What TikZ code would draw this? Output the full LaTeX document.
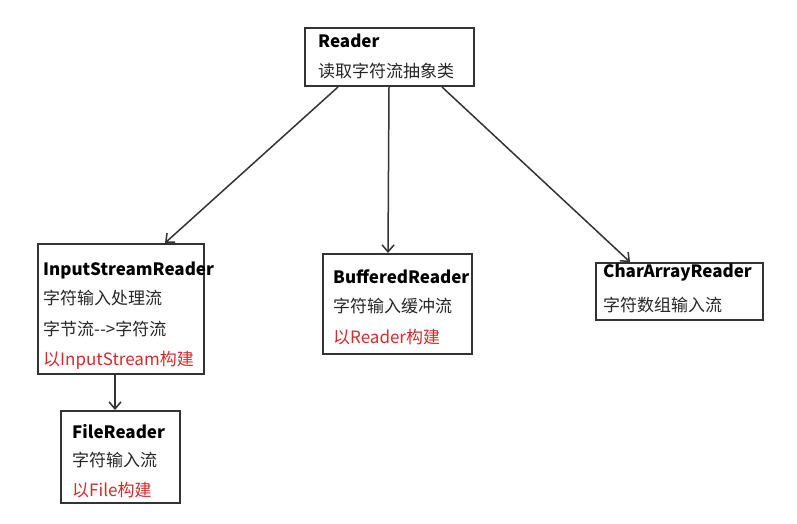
\documentclass[tikz,border=0pt]{standalone}
\usepackage{fontspec}
\setmainfont{Noto Sans CJK SC}
\usepackage{xcolor}
\usetikzlibrary{arrows.meta}

\definecolor{boxline}{HTML}{333333}
\definecolor{hintred}{HTML}{D42B2B}

\tikzset{
  classbox/.style={draw=boxline, line width=2pt, rectangle, inner sep=0pt, anchor=north west},
  title/.style={anchor=west, inner sep=0pt, font=\fontsize{17}{17}\selectfont\bfseries, text=black},
  line/.style={anchor=west, inner sep=0pt, font=\fontsize{17}{17}\selectfont, text=black!85},
  hint/.style={line, text=hintred},
  arr/.style={-{Straight Barb[length=7pt,width=12pt]}, draw=boxline, line width=1.5pt}
}

\begin{document}
\begin{tikzpicture}[x=1pt,y=-1pt]
\useasboundingbox (0,0) rectangle (797,523);

% boxes
\node[classbox, minimum width=169pt, minimum height=58pt] (reader) at (304,27) {};
\node[classbox, minimum width=166pt, minimum height=130pt] (isr) at (37,243) {};
\node[classbox, minimum width=119pt, minimum height=92pt] (file) at (60,410) {};
\node[classbox, minimum width=149pt, minimum height=100pt] (buffered) at (322,253) {};
\node[classbox, minimum width=167pt, minimum height=57pt] (chararray) at (595,262) {};

% texts
\node[title] (readerT) at (318,41) {Reader};
\node[line] (readerL) at (318,71) {读取字符流抽象类};

\node[title] (isrT) at (43,270) {InputStreamReader};
\node[line] (isrL1) at (43,298) {字符输入处理流};
\node[line] (isrL2) at (43,329) {字节流{-}{-}>字符流};
\node[hint] (isrL3) at (43,360) {以InputStream构建};

\node[title] (fileT) at (72,432) {FileReader};
\node[line] (fileL) at (72,460) {字符输入流};
\node[hint] (fileH) at (72,490) {以File构建};

\node[title] (bufT) at (333,277) {BufferedReader};
\node[line] (bufL) at (333,306) {字符输入缓冲流};
\node[hint] (bufH) at (333,337) {以Reader构建};

\node[title] (charT) at (603,273) {CharArrayReader};
\node[line] (charL) at (603,305) {字符数组输入流};

% arrows
\draw[arr] ([xshift=34pt]reader.south west) -- ([xshift=128pt]isr.north west);
\draw[arr] ([xshift=85pt]reader.south west) -- ([xshift=66pt]buffered.north west);
\draw[arr] ([xshift=138pt]reader.south west) -- ([xshift=35pt]chararray.north west);
\draw[arr] ([xshift=78pt]isr.south west) -- ([xshift=55pt]file.north west);
\end{tikzpicture}
\end{document}
